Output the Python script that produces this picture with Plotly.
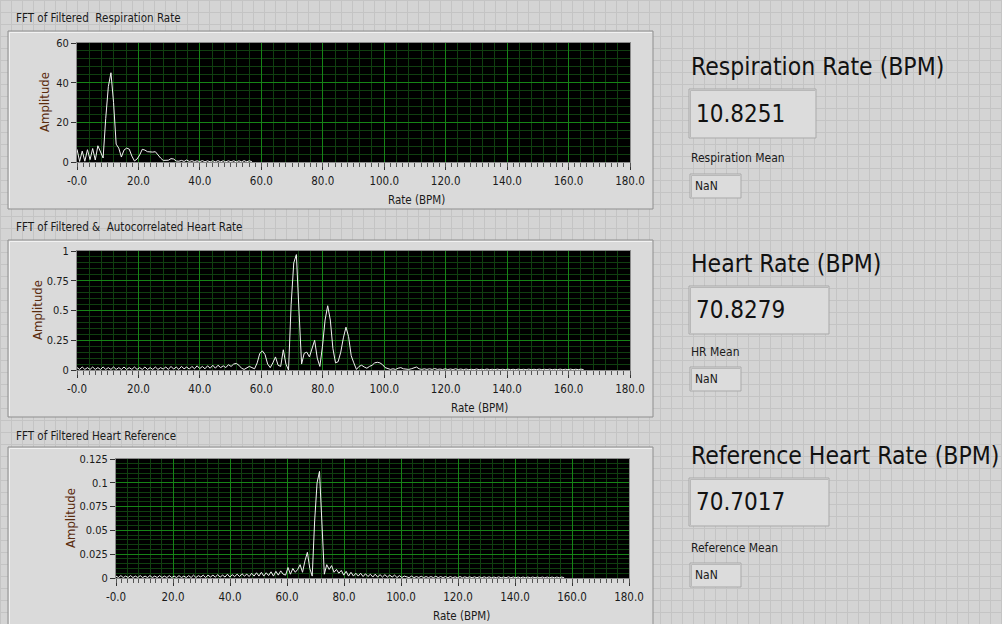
import numpy as np
from plotly import graph_objs as go

W, H = 1002, 624
BIN_WIDTH = 0.85  # BPM per FFT bin

# FFT of Filtered Respiration Rate (amplitude per bin)
resp_amp = [6.4, 0.3, 5.5, 0.4, 6.2, 1.2, 6.8, 1.0, 8.2, 5.0,
            2.0, 22.0, 38.0, 45.0, 30.0, 9.0, 7.0, 2.5, 6.0, 7.0,
            6.5, 3.0, 0.5, 1.5, 3.5, 6.4, 6.0, 5.2, 5.0, 5.0,
            5.2, 3.5, 2.0, 0.8, 0.8, 0.9, 1.7, 1.5, 0.5, 0.4,
            0.8, 0.3, 1.0, 0.3, 0.7, 0.2, 0.6, 0.2, 0.7, 0.1,
            0.6, 0.1, 0.6, 0.1, 0.7, 0.1, 0.6, 0.1, 0.6, 0.1,
            0.6, 0.1, 0.6, 0.1, 0.7, 0.1, 0.6, 0.1]

# FFT of Filtered & Autocorrelated Heart Rate
heart_amp = [0.02, 0.005, 0.025, 0.005, 0.02, 0.005, 0.025, 0.005, 0.02, 0.005,
             0.025, 0.005, 0.02, 0.005, 0.025, 0.005, 0.02, 0.005, 0.025, 0.005,
             0.02, 0.005, 0.025, 0.005, 0.02, 0.005, 0.025, 0.005, 0.02, 0.005,
             0.025, 0.005, 0.02, 0.008, 0.025, 0.005, 0.03, 0.008, 0.025, 0.005,
             0.03, 0.01, 0.025, 0.008, 0.03, 0.01, 0.035, 0.012, 0.03, 0.01,
             0.035, 0.015, 0.04, 0.015, 0.04, 0.02, 0.035, 0.02, 0.045, 0.03,
             0.05, 0.055, 0.04, 0.015, 0.005, 0.02, 0.03, 0.02, 0.01, 0.06,
             0.14, 0.16, 0.13, 0.05, 0.02, 0.06, 0.11, 0.04, 0.03, 0.17,
             0.05, 0.0, 0.55, 0.90, 0.97, 0.50, 0.05, 0.14, 0.15, 0.11,
             0.18, 0.25, 0.10, 0.03, 0.20, 0.42, 0.54, 0.42, 0.18, 0.06,
             0.07, 0.15, 0.27, 0.36, 0.28, 0.12, 0.06, 0.005, 0.03, 0.04,
             0.025, 0.015, 0.03, 0.04, 0.06, 0.065, 0.06, 0.045, 0.02, 0.01,
             0.005, 0.01, 0.005, 0.015, 0.02, 0.01, 0.005, 0.005, 0.01, 0.015,
             0.025, 0.01, 0.005, 0.01, 0.005, 0.01, 0.005, 0.012, 0.005, 0.008,
             0.004, 0.01, 0.004, 0.008, 0.004, 0.01, 0.004, 0.008, 0.003, 0.008,
             0.003, 0.006, 0.003, 0.008, 0.003, 0.006, 0.003, 0.008, 0.003, 0.006,
             0.003, 0.007, 0.003, 0.006, 0.003, 0.007, 0.003, 0.006, 0.003, 0.007,
             0.003, 0.006, 0.003, 0.007, 0.003, 0.006, 0.003, 0.007, 0.003, 0.006,
             0.003, 0.007, 0.003, 0.006, 0.003, 0.007, 0.003, 0.006, 0.003, 0.007,
             0.003, 0.006, 0.003, 0.007, 0.003]

# FFT of Filtered Heart Reference
ref_amp = [0.002, 0.0005, 0.0025, 0.0005, 0.002, 0.0005, 0.0025, 0.0005, 0.002, 0.0005,
           0.0025, 0.0005, 0.002, 0.0005, 0.0025, 0.0005, 0.002, 0.0005, 0.0025, 0.0005,
           0.002, 0.0005, 0.0025, 0.0005, 0.002, 0.0005, 0.0025, 0.0005, 0.002, 0.0005,
           0.0025, 0.0005, 0.003, 0.0005, 0.0025, 0.001, 0.003, 0.0005, 0.003, 0.001,
           0.003, 0.001, 0.0035, 0.001, 0.003, 0.001, 0.004, 0.001, 0.0035, 0.0015,
           0.004, 0.0015, 0.0045, 0.002, 0.004, 0.0015, 0.005, 0.002, 0.0055, 0.002,
           0.006, 0.002, 0.0055, 0.0025, 0.0065, 0.002, 0.007, 0.003, 0.0075, 0.004,
           0.003, 0.011, 0.004, 0.010, 0.006, 0.009, 0.014, 0.006, 0.018, 0.027,
           0.010, 0.002, 0.060, 0.100, 0.112, 0.065, 0.004, 0.014, 0.009, 0.013,
           0.006, 0.009, 0.005, 0.008, 0.003, 0.007, 0.002, 0.006, 0.002, 0.005,
           0.002, 0.005, 0.0015, 0.0045, 0.0015, 0.004, 0.001, 0.004, 0.001, 0.0035,
           0.001, 0.0035, 0.001, 0.003, 0.001, 0.003, 0.0005, 0.0025, 0.0005, 0.002,
           0.0015, 0.0004, 0.002, 0.0004, 0.0015, 0.0005, 0.0018, 0.0004, 0.0015, 0.0004,
           0.0015, 0.0004, 0.0018, 0.0004, 0.0015, 0.0004, 0.0015, 0.0003, 0.0015, 0.0004,
           0.0012, 0.0003, 0.0015, 0.0003, 0.0012, 0.0004, 0.0012, 0.0003, 0.0012, 0.0003,
           0.0012, 0.0003, 0.0012, 0.0003, 0.0012, 0.0003, 0.001, 0.0003, 0.0012, 0.0003,
           0.001, 0.0003, 0.0012, 0.0003, 0.001, 0.0003, 0.001, 0.0002, 0.001, 0.0003,
           0.001, 0.0002, 0.001, 0.0003, 0.001, 0.0002, 0.001, 0.0002, 0.001, 0.0002,
           0.001, 0.0002, 0.001, 0.0002, 0.001, 0.0002]

x_tick_vals = [0, 20, 40, 60, 80, 100, 120, 140, 160, 180]
x_tick_text = ['-0.0', '20.0', '40.0', '60.0', '80.0', '100.0', '120.0', '140.0', '160.0', '180.0']
resp_y_ticks = [0, 20, 40, 60]
resp_y_text = ['0', '20', '40', '60']
heart_y_ticks = [0, 0.25, 0.5, 0.75, 1]
heart_y_text = ['0', '0.25', '0.5', '0.75', '1']
ref_y_ticks = [0, 0.025, 0.05, 0.075, 0.1, 0.125]
ref_y_text = ['0', '0.025', '0.05', '0.075', '0.1', '0.125']

chart_titles = ['FFT of Filtered \u00a0Respiration Rate',
                'FFT of Filtered & \u00a0Autocorrelated Heart Rate',
                'FFT of Filtered Heart Reference']
readout_labels = ['Respiration Rate (BPM)', 'Heart Rate (BPM)', 'Reference Heart Rate (BPM)']
readout_values = ['10.8251', '70.8279', '70.7017']
mean_labels = ['Respiration Mean', 'HR Mean', 'Reference Mean']
mean_values = ['NaN', 'NaN', 'NaN']

FONT = 'DejaVu Sans Condensed, Liberation Sans Narrow, DejaVu Sans, sans-serif'
BG = '#d4d4d4'
BG_GRID = '#c4c4c4'
PANEL = '#dadada'
MAJOR_GREEN = '#168416'
MINOR_GREEN = '#103f10'


def px(x):
    return x / W


def py(y):
    return 1 - y / H


def label(text, x, y, size, color='#1a1a1a', xanchor='left', angle=0):
    return dict(text=text, x=px(x), y=py(y), xref='paper', yref='paper',
                xanchor=xanchor, yanchor='middle', textangle=angle, showarrow=False,
                font=dict(family=FONT, size=size, color=color))


fig = go.Figure()

# chart geometry in pixels: (left, top, right, bottom)
charts = [
    dict(amp=resp_amp, box=(77, 43, 630, 162), yr=60, yt=resp_y_ticks, ytt=resp_y_text, ydt=20,
         panel=(8, 31, 653, 209), title_y=18, ytitle=(45, 102), xtitle=(416, 200)),
    dict(amp=heart_amp, box=(77, 251, 630, 370), yr=1, yt=heart_y_ticks, ytt=heart_y_text, ydt=0.25,
         panel=(8, 240, 653, 417), title_y=227, ytitle=(37, 310), xtitle=(479, 408)),
    dict(amp=ref_amp, box=(116, 459, 629, 578), yr=0.125, yt=ref_y_ticks, ytt=ref_y_text, ydt=0.025,
         panel=(8, 447, 653, 630), title_y=436, ytitle=(70, 518), xtitle=(461, 616)),
]

shapes = []
annotations = []

# panel background grid
path = ''
for gx in range(0, W + 1, 11):
    path += 'M%.5f,0 L%.5f,1 ' % (px(gx + 0.5), px(gx + 0.5))
for gy in range(0, H + 1, 12):
    path += 'M0,%.5f L1,%.5f ' % (py(gy + 0.5), py(gy + 0.5))
shapes.append(dict(type='path', xref='paper', yref='paper', path=path,
                   line=dict(color=BG_GRID, width=1), layer='below'))

for k, c in enumerate(charts):
    n = k + 1
    xa = 'x' if n == 1 else 'x%d' % n
    ya = 'y' if n == 1 else 'y%d' % n
    xov = 'x%d' % (n + 3)
    l, t, r, b = c['box']

    x = np.arange(len(c['amp'])) * BIN_WIDTH
    fig.add_trace(go.Scatter(x=x, y=c['amp'], mode='lines', xaxis=xa, yaxis=ya,
                             line=dict(color='#f2f2f2', width=1), hoverinfo='skip',
                             showlegend=False))
    # dummy trace so the fine tick-scale axis gets drawn
    fig.add_trace(go.Scatter(x=[None], y=[None], xaxis=xov, yaxis=ya, showlegend=False,
                             hoverinfo='skip'))

    key = '' if n == 1 else str(n)
    fig.layout['xaxis' + key] = dict(
        domain=[px(l), px(r)], anchor=ya, range=[0, 180], tickmode='array',
        tickvals=x_tick_vals, ticktext=x_tick_text, ticks='outside', ticklen=7,
        tickcolor='#333333', showline=True, mirror=True, linecolor='#8a8a8a',
        showgrid=True, gridcolor=MAJOR_GREEN, gridwidth=1, zeroline=False,
        ticklabelstandoff=1, automargin=False,
        minor=dict(tickmode='linear', tick0=0, dtick=4, showgrid=True,
                   gridcolor=MINOR_GREEN, ticks=''),
        tickfont=dict(family=FONT, size=11.5, color='#1a1a1a'), fixedrange=True)
    fig.layout['xaxis%d' % (n + 3)] = dict(
        overlaying=xa, anchor=ya, side='bottom', range=[0, 180], tickmode='linear',
        tick0=0, dtick=2, ticks='outside', ticklen=4, tickcolor='#555555',
        showticklabels=False, showgrid=False, showline=False, zeroline=False,
        automargin=False, fixedrange=True)
    fig.layout['yaxis' + key] = dict(
        domain=[py(b), py(t)], anchor=xa, range=[0, c['yr']], tickmode='array',
        tickvals=c['yt'], ticktext=c['ytt'], ticks='outside', ticklen=5,
        tickcolor='#333333', showline=True, mirror=True, linecolor='#8a8a8a',
        showgrid=True, gridcolor=MAJOR_GREEN, zeroline=False, automargin=False,
        minor=dict(tickmode='linear', tick0=0, dtick=c['ydt'] / 5, showgrid=True,
                   gridcolor=MINOR_GREEN, ticks=''),
        tickfont=dict(family=FONT, size=11, color='#1a1a1a'), fixedrange=True)

    # raised panel behind the graph
    pl, pt, pr, pb = c['panel']
    shapes.append(dict(type='rect', xref='paper', yref='paper', layer='below',
                       x0=px(pl), x1=px(pr), y0=py(pb), y1=py(pt),
                       fillcolor=PANEL, line=dict(color='#8e8e8e', width=1)))
    shapes.append(dict(type='path', xref='paper', yref='paper', layer='below',
                       path='M%.5f,%.5f L%.5f,%.5f L%.5f,%.5f' % (
                           px(pl + 1.5), py(pb - 1), px(pl + 1.5), py(pt + 1.5),
                           px(pr - 1), py(pt + 1.5)),
                       line=dict(color='#f2f2f2', width=1)))
    # black plot area
    shapes.append(dict(type='rect', xref=xa, yref=ya, layer='below',
                       x0=0, x1=180, y0=0, y1=c['yr'],
                       fillcolor='#000000', line=dict(width=0)))

    annotations.append(label(chart_titles[k], 14, c['title_y'], 11.5))
    annotations.append(label('Amplitude', c['ytitle'][0], c['ytitle'][1], 13,
                             color='#5a2c0e', xanchor='center', angle=-90))
    annotations.append(label('Rate (BPM)', c['xtitle'][0], c['xtitle'][1], 11.5,
                             xanchor='center'))

# numeric indicators on the right
readouts = [
    dict(label_y=67, box=(689, 89, 816, 138), mean_y=158, nan_box=(690, 174, 741, 198)),
    dict(label_y=263, box=(689, 286, 829, 334), mean_y=352, nan_box=(690, 367, 741, 391)),
    dict(label_y=455, box=(689, 478, 829, 526), mean_y=548, nan_box=(690, 563, 741, 587)),
]
for k, rd in enumerate(readouts):
    for bx in (rd['box'], rd['nan_box']):
        shapes.append(dict(type='rect', xref='paper', yref='paper', layer='below',
                           x0=px(bx[0]), x1=px(bx[2]), y0=py(bx[3]), y1=py(bx[1]),
                           fillcolor='#dcdcdc', line=dict(color='#a9a9a9', width=1)))
        # inset shadow on top and left edge
        shapes.append(dict(type='path', xref='paper', yref='paper', layer='below',
                           path='M%.5f,%.5f L%.5f,%.5f L%.5f,%.5f' % (
                               px(bx[0] + 1.5), py(bx[3] - 1), px(bx[0] + 1.5), py(bx[1] + 1.5),
                               px(bx[2] - 1), py(bx[1] + 1.5)),
                           line=dict(color='#b8b8b8', width=1)))
    annotations.append(label(readout_labels[k], 689, rd['label_y'], 24.5, color='#111111'))
    annotations.append(label(readout_values[k], rd['box'][0] + 5,
                             (rd['box'][1] + rd['box'][3]) / 2, 24, color='#111111'))
    annotations.append(label(mean_labels[k], 689, rd['mean_y'], 12))
    annotations.append(label(mean_values[k], rd['nan_box'][0] + 3,
                             (rd['nan_box'][1] + rd['nan_box'][3]) / 2, 12))

fig.update_layout(width=W, height=H,
                  margin=dict(l=0, r=0, t=0, b=0, pad=0, autoexpand=False),
                  paper_bgcolor=BG, plot_bgcolor='rgba(0,0,0,0)',
                  shapes=shapes, annotations=annotations, showlegend=False,
                  font=dict(family=FONT))

fig.write_html("out.html", config={'displayModeBar': False},
               post_script="document.body.style.margin='0px';")
